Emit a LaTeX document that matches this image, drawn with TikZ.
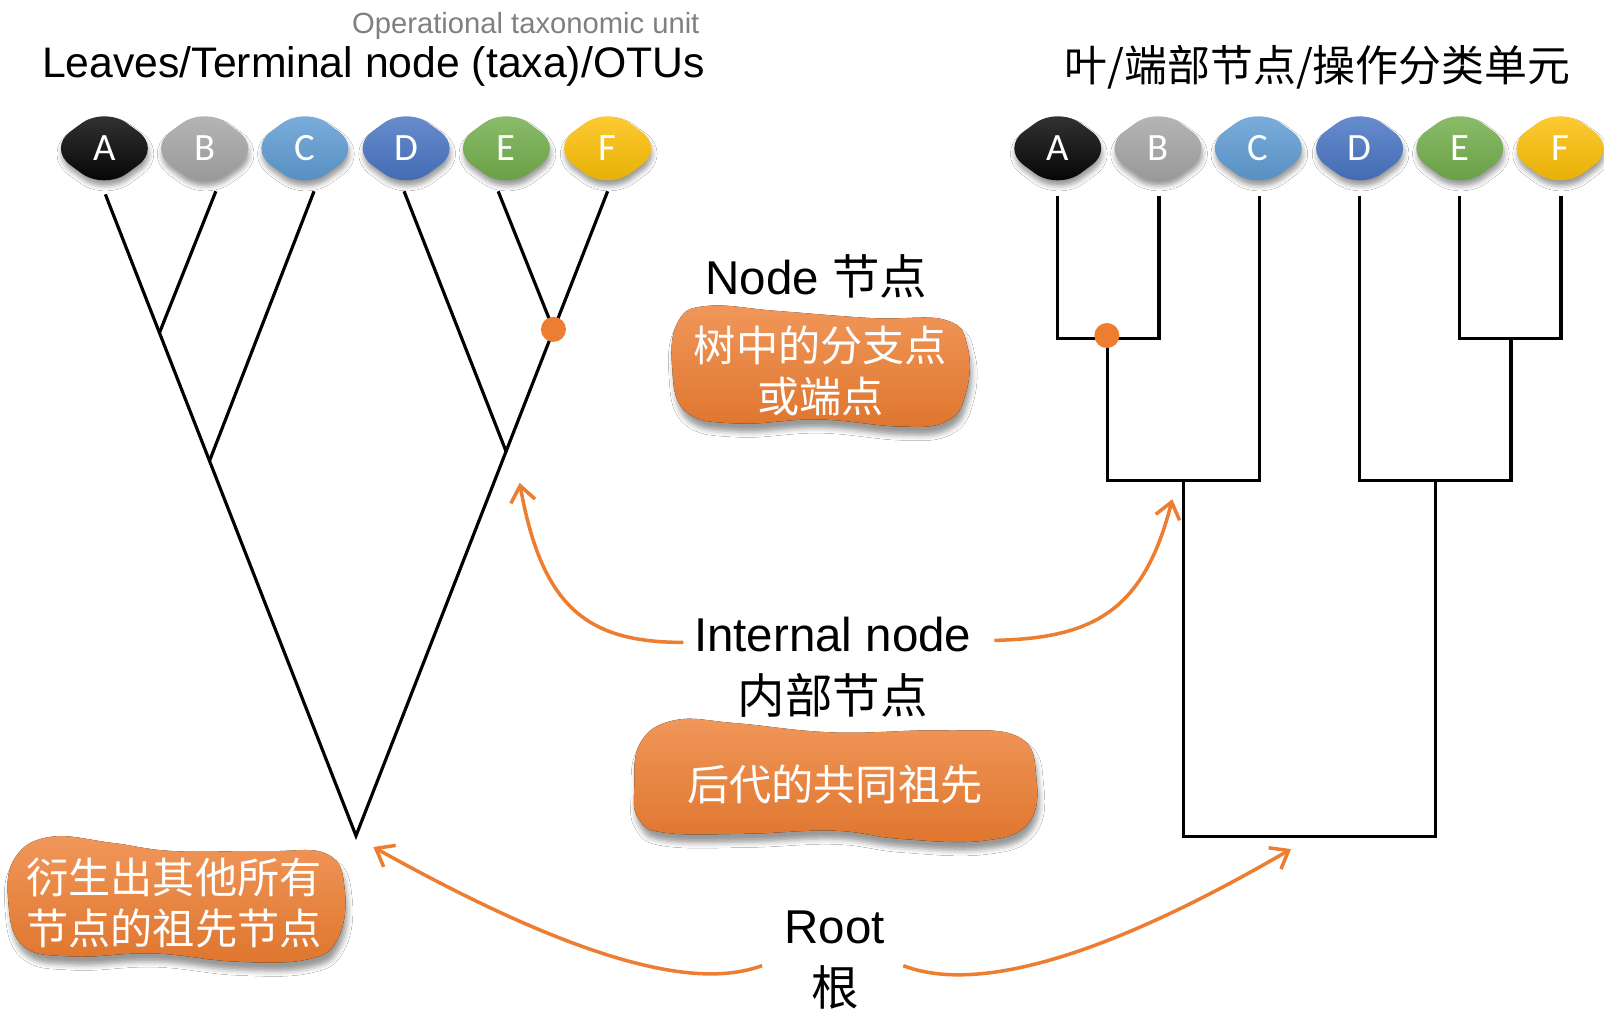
\documentclass[tikz,border=0pt]{standalone}
\usepackage{fontspec}
\setmainfont{Liberation Sans}
\newfontfamily\cjk{Noto Sans CJK SC}
\newfontfamily\leaffont{Carlito}
\usepackage{xcolor}
\usetikzlibrary{arrows.meta, shapes.geometric, shadows.blur, backgrounds}

\definecolor{accent}{HTML}{ED7D31}
\definecolor{lfA}{HTML}{000000}
\definecolor{lfB}{HTML}{A5A5A5}
\definecolor{lfC}{HTML}{5B9BD5}
\definecolor{lfD}{HTML}{4472C4}
\definecolor{lfE}{HTML}{70AD47}
\definecolor{lfF}{HTML}{FFC000}

\begin{document}
\begin{tikzpicture}[x=0.01023cm, y=-0.01023cm,
  leaf/.style={diamond, rounded corners=8pt, minimum width=1.14cm,
    minimum height=0.84cm, inner sep=0pt, text=white,
    font=\leaffont\fontsize{11pt}{13pt}\selectfont,
    top color=#1!78!white, bottom color=#1!90!black,
    blur shadow={shadow xshift=0.3pt, shadow yshift=-1.6pt,
      shadow blur radius=1.4pt, shadow opacity=40}},
  branch/.style={line width=0.9pt, black},
  bubble/.style={top color=accent!80!white, bottom color=accent!94!black,
    blur shadow={shadow xshift=0.6pt, shadow yshift=-2.4pt,
      shadow blur radius=1.5pt, shadow opacity=40}},
  bubbletext/.style={text=white, align=center,
    font=\cjk\fontsize{12pt}{14.5pt}\selectfont},
  lbl/.style={align=center, font=\fontsize{13.5pt}{16pt}\selectfont},
  cjklbl/.style={font=\cjk\fontsize{13.5pt}{16pt}\selectfont},
  callout/.style={accent, line width=1pt,
    -{Straight Barb[length=4.5pt, width=7pt]}},
  dot/.style={circle, inner sep=0pt, minimum size=0.25cm, fill=accent},
]
\path[use as bounding box, fill=white] (0,0) rectangle (1568,986);
%
% ====== TITLES ======
\node[text=black!50, font=\fontsize{8.3pt}{10pt}\selectfont]
  (otu) at (514,25) {Operational taxonomic unit};
\node[font=\fontsize{12.15pt}{14pt}\selectfont] (titleL) at (365,65)
  {Leaves/Terminal node (taxa)/OTUs};
\node[font=\cjk\fontsize{12.2pt}{14pt}\selectfont] (titleR) at (1288,66)
  {叶/端部节点/操作分类单元};
%
% ====== LEAVES, LEFT TREE ======
\node[leaf=lfA] (lA) at (102,145) {A};
\node[leaf=lfB] (lB) at (200,145) {B};
\node[leaf=lfC] (lC) at (298,145) {C};
\node[leaf=lfD] (lD) at (397,145) {D};
\node[leaf=lfE] (lE) at (495,145) {E};
\node[leaf=lfF] (lF) at (594,145) {F};
%
% ====== LEAVES, RIGHT TREE ======
\node[leaf=lfA] (rA) at (1034,145) {A};
\node[leaf=lfB] (rB) at (1132,145) {B};
\node[leaf=lfC] (rC) at (1230,145) {C};
\node[leaf=lfD] (rD) at (1329,145) {D};
\node[leaf=lfE] (rE) at (1427,145) {E};
\node[leaf=lfF] (rF) at (1525,145) {F};
%
% ====== LEFT TREE (slanted) ======
\coordinate (tA) at (103,190);
\coordinate (tB) at (211,187);
\coordinate (tC) at (307,187);
\coordinate (tD) at (395,187);
\coordinate (tE) at (487,187);
\coordinate (tF) at (594,187);
\coordinate (nAB) at (156,325);
\coordinate (nABC) at (205,450);
\coordinate (nEF) at (541,322);
\coordinate (nDEF) at (495,442);
\coordinate (rootL) at (348,817);
\draw[branch] (tA) -- (rootL) -- (tF);
\draw[branch] (tB) -- (nAB);
\draw[branch] (tC) -- (nABC);
\draw[branch] (tD) -- (nDEF);
\draw[branch] (tE) -- (nEF);
\node[dot] (dotL) at (nEF) {};
%
% ====== RIGHT TREE (rectangular) ======
\coordinate (uA) at (1034,192);
\coordinate (uB) at (1133,192);
\coordinate (uC) at (1231,192);
\coordinate (uD) at (1329,192);
\coordinate (uE) at (1427,192);
\coordinate (uF) at (1526,192);
\coordinate (jAB) at (1083,331);
\coordinate (jEF) at (1477,331);
\coordinate (jABC) at (1157,470);
\coordinate (jDEF) at (1403,470);
\coordinate (rootR) at (1280,818);
\draw[branch] (uA) |- (jAB) -| (uB);
\draw[branch] (uE) |- (jEF) -| (uF);
\draw[branch] (jAB) |- (jABC) -| (uC);
\draw[branch] (uD) |- (jDEF) -| (jEF);
\draw[branch] (jABC) |- (rootR) -| (jDEF);
\node[dot] (dotR) at (1082,328) {};
%
% ====== NODE LABEL ======
\node[lbl] (nodelbl) at (798,270) {Node {\cjk 节点}};
\fill[bubble] plot[smooth cycle, tension=0.7] coordinates {
  (657,358) (663,314) (692,299) (760,304) (853,311) (925,313) (946,340)
  (944,385) (925,412) (880,417) (800,410) (720,414) (670,402)};
\node[bubbletext] (nodedesc) at (802,363) {树中的分支点\\或端点};
%
% ====== INTERNAL NODE LABEL ======
\node[lbl] (intEn) at (814,620) {Internal node};
\node[cjklbl] (intCn) at (814,680) {内部节点};
\fill[bubble] plot[smooth cycle, tension=0.7] coordinates {
  (620,770) (626,726) (660,704) (720,707) (815,716) (920,714) (995,720)
  (1013,760) (1005,805) (960,822) (880,820) (815,812) (730,815) (650,814)
  (624,800)};
\node[bubbletext] (intdesc) at (816,767) {后代的共同祖先};
%
% ====== ROOT LABEL ======
\node[lbl] (rootEn) at (816,907) {Root};
\node[cjklbl] (rootCn) at (816,965) {根};
\fill[bubble] plot[smooth cycle, tension=0.7] coordinates {
  (8,880) (15,838) (50,818) (110,824) (170,832) (260,832) (320,835)
  (337,870) (330,918) (300,938) (230,940) (150,932) (70,935) (22,924)};
\node[bubbletext] (rootdesc) at (170,883) {衍生出其他所有\\节点的祖先节点};
%
% ====== CALLOUT ARROWS ======
\coordinate (inL) at (508,472);
\coordinate (inR) at (1146,488);
\coordinate (rtL) at (365,828);
\coordinate (rtR) at (1262,830);
\draw[callout] (668,628) .. controls (575,628) and (530,595) .. (inL);
\draw[callout] (972,626) .. controls (1068,624) and (1118,598) .. (inR);
\draw[callout] (745,944) .. controls (700,960) and (610,965) .. (rtL);
\draw[callout] (883,944) .. controls (930,962) and (1030,965) .. (rtR);
\end{tikzpicture}
\end{document}
